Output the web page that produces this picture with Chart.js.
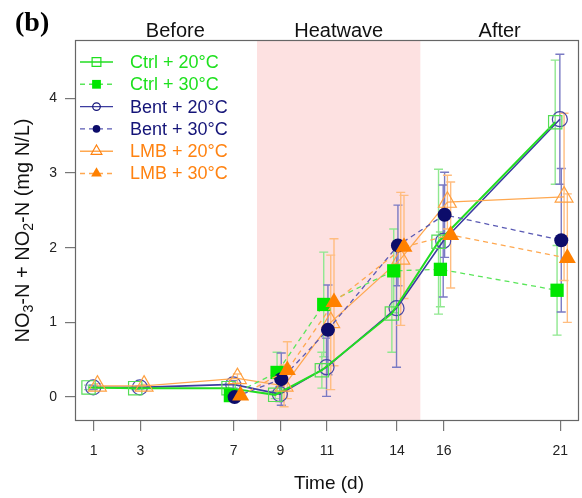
<!DOCTYPE html>
<html><head><meta charset="utf-8">
<script src="https://cdn.jsdelivr.net/npm/chart.js@4.4.1/dist/chart.umd.min.js"></script>
<style>html,body{margin:0;padding:0;background:#fff}#wrap{width:582px;height:498px}</style>
</head><body><div id="wrap"><canvas id="c" width="582" height="498"></canvas></div>
<script>
// ---- data ----
const days20 = [1, 3, 7, 9, 11, 14, 16, 21];
const days30 = [7, 9, 11, 14, 16, 21];
const ctrl20 = [0.13, 0.12, 0.12, 0.03, 0.36, 1.12, 2.08, 3.68];
const ctrl20Err = [0.03, 0.02, 0.05, 0.05, 0.24, 0.52, 0.97, 0.83];
const ctrl30 = [0.02, 0.33, 1.24, 1.69, 1.71, 1.43];
const ctrl30Err = [0.04, 0.27, 0.70, 0.56, 0.50, 0.60];
const bent20 = [0.13, 0.13, 0.17, 0.04, 0.40, 1.19, 2.09, 3.72];
const bent20Err = [0.03, 0.02, 0.05, 0.10, 0.39, 0.79, 0.75, 0.87];
const bent30 = [0.00, 0.24, 0.90, 2.03, 2.44, 2.10];
const bent30Err = [0.04, 0.35, 0.60, 0.54, 0.57, 0.96];
const lmb20 = [0.15, 0.15, 0.25, 0.15, 1.00, 1.85, 2.61, 2.68];
const lmb20Err = [0.03, 0.02, 0.06, 0.28, 0.90, 0.89, 0.36, 1.12];
const lmb30 = [0.02, 0.36, 1.27, 2.01, 2.17, 1.86];
const lmb30Err = [0.04, 0.38, 0.85, 0.69, 0.71, 0.86];
const seriesNames = ['Ctrl + 20°C', 'Ctrl + 30°C', 'Bent + 20°C', 'Bent + 30°C', 'LMB + 20°C', 'LMB + 30°C'];
const xTicks = [1, 3, 7, 9, 11, 14, 16, 21];
const yTicks = [0, 1, 2, 3, 4];
const phaseNames = ['Before', 'Heatwave', 'After'];
const phaseStart = [1, 8, 15];
const phaseEnd = [8, 15, 21.8];
const heatwave = [8, 15];

// ---- styles ----
const FONT = '"Liberation Sans", Arial, sans-serif';
const GREEN = '#1ee01e', NAVY = '#141478', ORANGE = '#ff8210';
const styles = [
  {name: seriesNames[0], days: days20, vals: ctrl20, err: ctrl20Err, shape: 'rect', filled: false, dash: [], line: '#22dd22', lw: 2, mk: '#55dd55', eb: '#8fe88f', txt: GREEN, r: 9.4, dodge: -0.22, order: 5},
  {name: seriesNames[1], days: days30, vals: ctrl30, err: ctrl30Err, shape: 'rect', filled: true, dash: [5, 4], line: '#5ae65a', lw: 1.3, mk: '#00e600', eb: '#8fe88f', txt: GREEN, r: 9.4, dodge: -0.14, order: 3},
  {name: seriesNames[2], days: days20, vals: bent20, err: bent20Err, shape: 'circle', filled: false, dash: [], line: '#3c3ca0', lw: 1.6, mk: '#4848a8', eb: '#7a7ac4', txt: NAVY, r: 7.5, dodge: -0.02, order: 6},
  {name: seriesNames[3], days: days30, vals: bent30, err: bent30Err, shape: 'circle', filled: true, dash: [5, 4], line: '#5a5ab4', lw: 1.3, mk: '#0c0c6a', eb: '#7a7ac4', txt: NAVY, r: 7, dodge: 0.04, order: 2},
  {name: seriesNames[4], days: days20, vals: lmb20, err: lmb20Err, shape: 'triangle', filled: false, dash: [], line: '#ffa850', lw: 1.3, mk: '#ffa040', eb: '#ffbd80', txt: ORANGE, r: 10.3, dodge: 0.16, order: 4},
  {name: seriesNames[5], days: days30, vals: lmb30, err: lmb30Err, shape: 'triangle', filled: true, dash: [5, 4], line: '#ffa850', lw: 1.3, mk: '#ff8000', eb: '#ffbd80', txt: ORANGE, r: 9.8, dodge: 0.30, order: 1}
];

const datasets = styles.map(s => ({
  label: s.name,
  data: s.days.map((d, i) => ({x: d + s.dodge, y: s.vals[i]})),
  showLine: true,
  borderColor: s.line,
  borderWidth: s.lw,
  borderDash: s.dash,
  pointStyle: s.shape,
  pointRadius: s.r,
  pointHoverRadius: s.r,
  pointBorderColor: s.mk,
  pointBackgroundColor: s.filled ? s.mk : 'rgba(0,0,0,0)',
  pointBorderWidth: s.filled ? 0 : 1.2,
  tension: 0,
  order: s.order,
  clip: false
}));

function marker(ctx, shape, x, y, r, filled, color, lw) {
  ctx.save();
  ctx.beginPath();
  if (shape === 'rect') {
    const h = r * Math.SQRT1_2;
    ctx.rect(x - h, y - h, 2 * h, 2 * h);
  } else if (shape === 'circle') {
    ctx.arc(x, y, r, 0, Math.PI * 2);
  } else {
    ctx.moveTo(x, y - r);
    ctx.lineTo(x + r * Math.sin(2 * Math.PI / 3), y + r / 2);
    ctx.lineTo(x - r * Math.sin(2 * Math.PI / 3), y + r / 2);
    ctx.closePath();
  }
  if (filled) { ctx.fillStyle = color; ctx.fill(); }
  else { ctx.strokeStyle = color; ctx.lineWidth = lw; ctx.stroke(); }
  ctx.restore();
}

const decor = {
  id: 'decor',
  beforeDatasetsDraw(chart) {
    const {ctx, chartArea: a, scales: {x, y}} = chart;
    ctx.save();
    ctx.fillStyle = '#fde1e1';
    const x0 = x.getPixelForValue(heatwave[0]), x1 = x.getPixelForValue(heatwave[1]);
    ctx.fillRect(x0, a.top, x1 - x0, a.bottom - a.top);
    styles.forEach(s => {
      ctx.strokeStyle = s.eb;
      ctx.lineWidth = 1.4;
      s.days.forEach((d, i) => {
        const px = x.getPixelForValue(d + s.dodge);
        const pt = y.getPixelForValue(s.vals[i] + s.err[i]);
        const pb = y.getPixelForValue(s.vals[i] - s.err[i]);
        ctx.beginPath();
        ctx.moveTo(px, pt); ctx.lineTo(px, pb);
        ctx.moveTo(px - 4.5, pt); ctx.lineTo(px + 4.5, pt);
        ctx.moveTo(px - 4.5, pb); ctx.lineTo(px + 4.5, pb);
        ctx.stroke();
      });
    });
    ctx.restore();
  },
  afterDraw(chart) {
    const {ctx, chartArea: a, scales: {x}} = chart;
    ctx.save();
    ctx.strokeStyle = '#666';
    ctx.lineWidth = 1.2;
    ctx.strokeRect(a.left + 0.5, a.top + 0.5, a.right - a.left - 1, a.bottom - a.top - 1);
    ctx.fillStyle = '#000';
    ctx.font = 'bold 28px "Liberation Serif", "Times New Roman", serif';
    ctx.textBaseline = 'alphabetic';
    ctx.textAlign = 'left';
    ctx.fillText('(b)', 15, 31);
    ctx.font = '20px ' + FONT;
    ctx.textAlign = 'center';
    ctx.textBaseline = 'middle';
    ctx.fillStyle = '#111';
    phaseNames.forEach((n, i) => {
      const cx = (x.getPixelForValue(phaseStart[i]) + x.getPixelForValue(phaseEnd[i])) / 2;
      ctx.fillText(n, cx, 31);
    });
    ctx.font = '19px ' + FONT;
    ctx.fillText('Time (d)', (a.left + a.right) / 2 + 2, 484);
    const segs = [['NO', false], ['3', true], ['-N + NO', false], ['2', true], ['-N (mg N/L)', false]];
    const big = '20px ' + FONT, small = '14px ' + FONT;
    let total = 0;
    segs.forEach(([t, sub]) => { ctx.font = sub ? small : big; total += ctx.measureText(t).width; });
    ctx.translate(22, (a.top + a.bottom) / 2);
    ctx.rotate(-Math.PI / 2);
    ctx.textAlign = 'left';
    ctx.textBaseline = 'alphabetic';
    let cx = -total / 2;
    segs.forEach(([t, sub]) => {
      ctx.font = sub ? small : big;
      ctx.fillText(t, cx, sub ? 11 : 7);
      cx += ctx.measureText(t).width;
    });
    ctx.restore();
    ctx.save();
    ctx.font = '18px ' + FONT;
    ctx.textBaseline = 'middle';
    ctx.textAlign = 'left';
    styles.forEach((s, i) => {
      const ly = 62 + i * 22.3;
      ctx.strokeStyle = s.line;
      ctx.lineWidth = 1.4;
      ctx.setLineDash(s.dash.length ? [5, 4] : []);
      ctx.beginPath(); ctx.moveTo(80, ly); ctx.lineTo(113, ly); ctx.stroke();
      ctx.setLineDash([]);
      const lr = s.shape === 'rect' ? 6.2 : (s.shape === 'circle' ? 3.8 : 6.2);
      marker(ctx, s.shape, 96.5, ly, lr, s.filled, s.filled ? s.mk : s.txt, 1.2);
      ctx.fillStyle = s.txt;
      ctx.fillText(s.name, 130, ly + 1);
    });
    ctx.restore();
  }
};

new Chart(document.getElementById('c'), {
  type: 'scatter',
  data: {datasets},
  options: {
    responsive: false,
    devicePixelRatio: 1,
    animation: false,
    events: [],
    layout: {autoPadding: false, padding: {top: 40, right: 3, left: 0, bottom: 0}},
    plugins: {legend: {display: false}, tooltip: {enabled: false}},
    scales: {
      x: {
        type: 'linear', min: 0.2, max: 21.8,
        afterFit: s => { s.height = 77; s.paddingLeft = 0; s.paddingRight = 0; },
        afterBuildTicks: s => { s.ticks = xTicks.map(v => ({value: v})); },
        grid: {drawOnChartArea: false, drawTicks: true, tickLength: 10, color: '#777', lineWidth: 1.2},
        border: {display: false},
        ticks: {padding: 12, color: '#222', font: {family: FONT, size: 14}, maxRotation: 0, autoSkip: false}
      },
      y: {
        type: 'linear', min: -0.32, max: 4.78,
        afterFit: s => { s.width = 75; s.paddingTop = 0; s.paddingBottom = 0; },
        afterBuildTicks: s => { s.ticks = yTicks.map(v => ({value: v})); },
        grid: {drawOnChartArea: false, drawTicks: true, tickLength: 10, color: '#777', lineWidth: 1.2},
        border: {display: false},
        ticks: {padding: 8, color: '#222', font: {family: FONT, size: 14}}
      }
    }
  },
  plugins: [decor]
});
</script>
</body></html>
